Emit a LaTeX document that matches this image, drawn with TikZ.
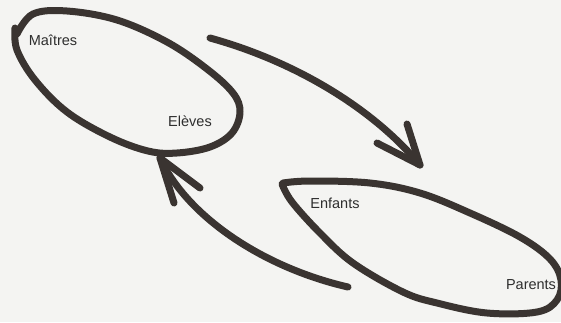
\documentclass[tikz,border=0pt]{standalone}
\usepackage{fontspec}
\setmainfont{Liberation Sans}
\definecolor{ink}{HTML}{3A3431}
\definecolor{paper}{HTML}{F4F4F2}
\definecolor{txt}{HTML}{2E2E2E}
\begin{document}
\begin{tikzpicture}[x=1pt,y=-1pt,
  stroke/.style={draw=ink,line width=7pt,line cap=round,line join=round},
  lbl/.style={font=\fontsize{14.5}{15}\selectfont,text=txt,inner sep=0pt}]
\fill[paper] (0,0) rectangle (561,322);
\useasboundingbox (0,0) rectangle (561,322);
% labels
\node[lbl] (maitres) at (53,40) {Maîtres};
\node[lbl] (eleves) at (190,121) {Elèves};
\node[lbl] (enfants) at (335,203) {Enfants};
\node[lbl] (parents) at (531,285) {Parents};
% top-left loop
\draw[stroke] plot[smooth,tension=0.6] coordinates {(17,34) (33,14) (67,11) (117,20) (167,42) (207,69) (233,93) (240,112) (232,133) (210,147) (177,153) (148,151) (110,137) (67,112) (35,80) (17,50) (15,28)};
% bottom-right loop
\draw[stroke] plot[smooth,tension=0.6] coordinates {(283,183) (310,181) (370,183) (420,193) (470,213) (520,237) (550,259) (561,280) (557,300) (537,312) (487,313) (437,303) (403,292) (353,263) (320,233) (292,202) (282,184)};
% arrow to Enfants
\coordinate (a1s) at (210,38);
\coordinate (a1t) at (420,165);
\draw[stroke] (a1s) .. controls (290,60) and (370,105) .. (a1t);
\draw[stroke] (377,143) -- (a1t) -- (407,124);
% arrow to Elèves
\coordinate (a2s) at (348,287);
\coordinate (a2t) at (160,158);
\draw[stroke] (a2s) .. controls (265,268) and (188,218) .. (a2t);
\draw[stroke] (174,203) -- (a2t) -- (200,188);
\end{tikzpicture}
\end{document}
